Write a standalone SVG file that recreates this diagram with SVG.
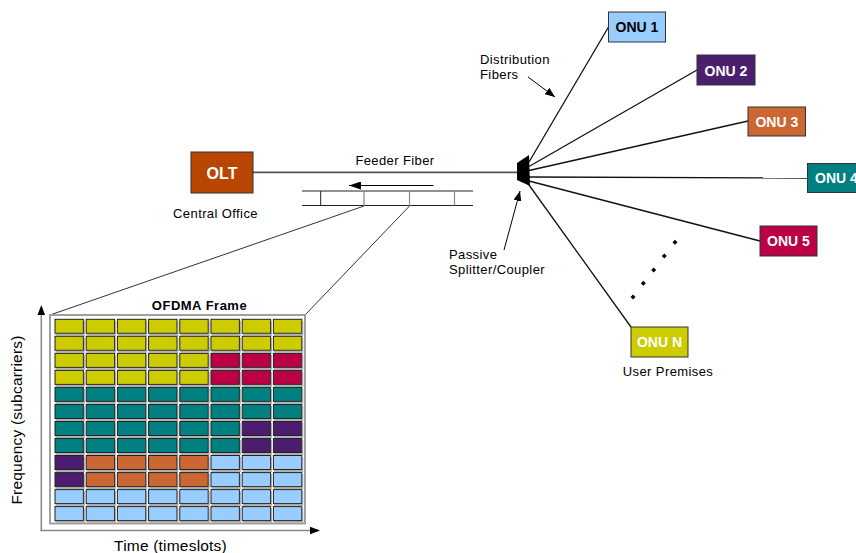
<svg xmlns="http://www.w3.org/2000/svg" width="856" height="553" viewBox="0 0 856 553">
  <style>
    .lbl { font-family: "Liberation Sans", Arial, sans-serif; font-size: 13px; letter-spacing: 0.4px; fill: #000; }
    .node-txt { font-family: "Liberation Sans", Arial, sans-serif; font-weight: bold; font-size: 14px; text-anchor: middle; fill: #fff; }
    .node-box { stroke: #333; stroke-width: 1; }
    .fiber { stroke: #111; stroke-width: 1.3; fill: none; }
    .pointer { stroke: #000; stroke-width: 1; fill: none; }
    .buf { stroke: #222; stroke-width: 1; fill: none; }
    .buf-mid { stroke: #888; stroke-width: 1.2; fill: none; }
    .zoom { stroke: #333; stroke-width: 1; fill: none; }
    .axis { stroke: #888; stroke-width: 1.5; fill: none; }
    .cell { stroke: #222; stroke-width: 1; }
    .y { fill: #CCCC00; }
    .r { fill: #BB0044; }
    .t { fill: #008080; }
    .p { fill: #4B1F6F; }
    .o { fill: #CC6633; }
    .b { fill: #99CCFF; }
  </style>
  <defs>
    <marker id="ah" viewBox="0 0 10 8" refX="10" refY="4" markerWidth="10" markerHeight="8" orient="auto" markerUnits="userSpaceOnUse">
      <path d="M0,0 L10,4 L0,8 z" fill="#000"/>
    </marker>
    <marker id="ah-big" viewBox="0 0 12 8" refX="12" refY="4" markerWidth="12" markerHeight="8" orient="auto" markerUnits="userSpaceOnUse">
      <path d="M0,0 L12,4 L0,8 z" fill="#000"/>
    </marker>
    <filter id="cellShadow" x="-10%" y="-10%" width="120%" height="130%">
      <feOffset in="SourceAlpha" dx="1" dy="2" result="off"/>
      <feFlood flood-color="#b0b0b0"/>
      <feComposite in2="off" operator="in" result="sh"/>
      <feMerge><feMergeNode in="sh"/><feMergeNode in="SourceGraphic"/></feMerge>
    </filter>
  </defs>

  <rect width="856" height="553" fill="#fff"/>

  <!-- connectors -->
  <g id="connectors">
    <!-- feeder fiber -->
    <line x1="253" y1="172.3" x2="518" y2="172.3" stroke="#555" stroke-width="1.8"/>
    <!-- distribution fibers -->
    <line class="fiber" x1="529" y1="162" x2="608.5" y2="27"/>
    <line class="fiber" x1="529" y1="166.5" x2="697" y2="70"/>
    <line class="fiber" x1="529" y1="170.5" x2="748" y2="121"/>
    <line class="fiber" x1="529" y1="177" x2="807" y2="178"/>
    <line class="fiber" x1="529" y1="181" x2="760" y2="241"/>
    <line class="fiber" x1="529" y1="185" x2="631" y2="327"/>
    <!-- label pointers -->
    <line class="pointer" x1="528" y1="77" x2="555" y2="97" marker-end="url(#ah)"/>
    <line class="pointer" x1="504" y1="250" x2="520" y2="191" marker-end="url(#ah)"/>
    <!-- upstream slot buffer -->
    <line class="buf" x1="302" y1="191" x2="473" y2="191"/>
    <line class="buf" x1="302" y1="205.5" x2="473" y2="205.5"/>
    <line class="buf" x1="320.7" y1="191" x2="320.7" y2="205.5"/>
    <line class="buf-mid" x1="364" y1="191" x2="364" y2="206"/>
    <line class="buf-mid" x1="409.5" y1="191" x2="409.5" y2="206"/>
    <line class="buf-mid" x1="454.5" y1="191" x2="454.5" y2="205.5"/>
    <line class="pointer" x1="433.5" y1="185.5" x2="349" y2="185.5" marker-end="url(#ah-big)"/>
    <!-- zoom lines to frame -->
    <line class="zoom" x1="364" y1="206" x2="50" y2="315"/>
    <line class="zoom" x1="409.5" y1="206" x2="305" y2="315"/>
    <!-- distant ONUs -->
    <g fill="#000">
      <path d="M675,239.8 l2.5,2.5 l-2.5,2.5 l-2.5,-2.5 z"/>
      <path d="M664.3,253.5 l2.5,2.5 l-2.5,2.5 l-2.5,-2.5 z"/>
      <path d="M653.7,267.5 l2.5,2.5 l-2.5,2.5 l-2.5,-2.5 z"/>
      <path d="M643.3,280.8 l2.5,2.5 l-2.5,2.5 l-2.5,-2.5 z"/>
      <path d="M633,294.5 l2.5,2.5 l-2.5,2.5 l-2.5,-2.5 z"/>
    </g>
  </g>

  <!-- OLT -->
  <g id="olt">
    <rect class="node-box" x="191" y="152" width="62" height="41" fill="#B84500"/>
    <text class="node-txt" x="222" y="178.5" style="font-size:16px">OLT</text>
    <text class="lbl" x="215.5" y="217.5" text-anchor="middle">Central Office</text>
  </g>

  <text class="lbl" x="395" y="165" text-anchor="middle">Feeder Fiber</text>

  <!-- passive splitter -->
  <g id="splitter">
    <polygon points="517,163 529,155 530,186 517,180" fill="#000"/>
    <text class="lbl" x="449" y="258.5">Passive</text>
    <text class="lbl" x="449" y="273.5">Splitter/Coupler</text>
  </g>

  <g id="fibers-label">
    <text class="lbl" x="480" y="63.5">Distribution</text>
    <text class="lbl" x="480" y="78.5">Fibers</text>
  </g>

  <!-- ONUs -->
  <g id="onu1">
    <rect class="node-box" x="608.5" y="12" width="57" height="30" fill="#99CCFF"/>
    <text class="node-txt" x="637" y="32" fill="#000" style="fill:#000">ONU 1</text>
  </g>
  <g id="onu2">
    <rect class="node-box" x="697" y="55" width="58" height="30" fill="#4B1F6F"/>
    <text class="node-txt" x="726" y="75.5">ONU 2</text>
  </g>
  <g id="onu3">
    <rect class="node-box" x="748" y="107" width="57.5" height="29" fill="#CC6633"/>
    <text class="node-txt" x="776.8" y="126.5">ONU 3</text>
  </g>
  <g id="onu4">
    <rect class="node-box" x="807.5" y="163.5" width="58" height="29" fill="#008080"/>
    <text class="node-txt" x="836.5" y="183">ONU 4</text>
  </g>
  <g id="onu5">
    <rect class="node-box" x="760" y="226" width="57" height="30" fill="#BB0044"/>
    <text class="node-txt" x="788.5" y="246">ONU 5</text>
  </g>
  <g id="onuN">
    <rect class="node-box" x="631" y="327" width="57" height="30" fill="#CCCC00"/>
    <text class="node-txt" x="659.5" y="347">ONU N</text>
    <text class="lbl" x="668" y="376" text-anchor="middle">User Premises</text>
  </g>

  <!-- OFDMA frame -->
  <g id="ofdma-frame">
    <line class="axis" x1="41.3" y1="531" x2="41.3" y2="307"/>
    <line class="axis" x1="40.5" y1="530.5" x2="318" y2="530.5"/>
    <path d="M41.3,305 L37.5,315 L45.1,315 z" fill="#000"/>
    <path d="M320,530.5 L310,526.7 L310,534.3 z" fill="#000"/>
    <rect x="50" y="315" width="255" height="208.5" fill="#fff" stroke="#a0a0a0" stroke-width="2"/>
    <text x="199.5" y="309.5" text-anchor="middle" style="font-family:'Liberation Sans',Arial,sans-serif;font-weight:bold;font-size:13px;letter-spacing:0.5px">OFDMA Frame</text>

    <g filter="url(#cellShadow)">
      <g transform="translate(0,319.3)">
        <rect class="cell y" x="55" width="28.4" height="14"/><rect class="cell y" x="86.2" width="28.4" height="14"/><rect class="cell y" x="117.4" width="28.4" height="14"/><rect class="cell y" x="148.6" width="28.4" height="14"/><rect class="cell y" x="179.8" width="28.4" height="14"/><rect class="cell y" x="211" width="28.4" height="14"/><rect class="cell y" x="242.2" width="28.4" height="14"/><rect class="cell y" x="273.4" width="28.4" height="14"/>
      </g>
      <g transform="translate(0,336.3)">
        <rect class="cell y" x="55" width="28.4" height="14"/><rect class="cell y" x="86.2" width="28.4" height="14"/><rect class="cell y" x="117.4" width="28.4" height="14"/><rect class="cell y" x="148.6" width="28.4" height="14"/><rect class="cell y" x="179.8" width="28.4" height="14"/><rect class="cell y" x="211" width="28.4" height="14"/><rect class="cell y" x="242.2" width="28.4" height="14"/><rect class="cell y" x="273.4" width="28.4" height="14"/>
      </g>
      <g transform="translate(0,353.4)">
        <rect class="cell y" x="55" width="28.4" height="14"/><rect class="cell y" x="86.2" width="28.4" height="14"/><rect class="cell y" x="117.4" width="28.4" height="14"/><rect class="cell y" x="148.6" width="28.4" height="14"/><rect class="cell y" x="179.8" width="28.4" height="14"/><rect class="cell r" x="211" width="28.4" height="14"/><rect class="cell r" x="242.2" width="28.4" height="14"/><rect class="cell r" x="273.4" width="28.4" height="14"/>
      </g>
      <g transform="translate(0,370.4)">
        <rect class="cell y" x="55" width="28.4" height="14"/><rect class="cell y" x="86.2" width="28.4" height="14"/><rect class="cell y" x="117.4" width="28.4" height="14"/><rect class="cell y" x="148.6" width="28.4" height="14"/><rect class="cell y" x="179.8" width="28.4" height="14"/><rect class="cell r" x="211" width="28.4" height="14"/><rect class="cell r" x="242.2" width="28.4" height="14"/><rect class="cell r" x="273.4" width="28.4" height="14"/>
      </g>
      <g transform="translate(0,387.4)">
        <rect class="cell t" x="55" width="28.4" height="14"/><rect class="cell t" x="86.2" width="28.4" height="14"/><rect class="cell t" x="117.4" width="28.4" height="14"/><rect class="cell t" x="148.6" width="28.4" height="14"/><rect class="cell t" x="179.8" width="28.4" height="14"/><rect class="cell t" x="211" width="28.4" height="14"/><rect class="cell t" x="242.2" width="28.4" height="14"/><rect class="cell t" x="273.4" width="28.4" height="14"/>
      </g>
      <g transform="translate(0,404.5)">
        <rect class="cell t" x="55" width="28.4" height="14"/><rect class="cell t" x="86.2" width="28.4" height="14"/><rect class="cell t" x="117.4" width="28.4" height="14"/><rect class="cell t" x="148.6" width="28.4" height="14"/><rect class="cell t" x="179.8" width="28.4" height="14"/><rect class="cell t" x="211" width="28.4" height="14"/><rect class="cell t" x="242.2" width="28.4" height="14"/><rect class="cell t" x="273.4" width="28.4" height="14"/>
      </g>
      <g transform="translate(0,421.5)">
        <rect class="cell t" x="55" width="28.4" height="14"/><rect class="cell t" x="86.2" width="28.4" height="14"/><rect class="cell t" x="117.4" width="28.4" height="14"/><rect class="cell t" x="148.6" width="28.4" height="14"/><rect class="cell t" x="179.8" width="28.4" height="14"/><rect class="cell t" x="211" width="28.4" height="14"/><rect class="cell p" x="242.2" width="28.4" height="14"/><rect class="cell p" x="273.4" width="28.4" height="14"/>
      </g>
      <g transform="translate(0,438.5)">
        <rect class="cell t" x="55" width="28.4" height="14"/><rect class="cell t" x="86.2" width="28.4" height="14"/><rect class="cell t" x="117.4" width="28.4" height="14"/><rect class="cell t" x="148.6" width="28.4" height="14"/><rect class="cell t" x="179.8" width="28.4" height="14"/><rect class="cell t" x="211" width="28.4" height="14"/><rect class="cell p" x="242.2" width="28.4" height="14"/><rect class="cell p" x="273.4" width="28.4" height="14"/>
      </g>
      <g transform="translate(0,455.5)">
        <rect class="cell p" x="55" width="28.4" height="14"/><rect class="cell o" x="86.2" width="28.4" height="14"/><rect class="cell o" x="117.4" width="28.4" height="14"/><rect class="cell o" x="148.6" width="28.4" height="14"/><rect class="cell o" x="179.8" width="28.4" height="14"/><rect class="cell b" x="211" width="28.4" height="14"/><rect class="cell b" x="242.2" width="28.4" height="14"/><rect class="cell b" x="273.4" width="28.4" height="14"/>
      </g>
      <g transform="translate(0,472.6)">
        <rect class="cell p" x="55" width="28.4" height="14"/><rect class="cell o" x="86.2" width="28.4" height="14"/><rect class="cell o" x="117.4" width="28.4" height="14"/><rect class="cell o" x="148.6" width="28.4" height="14"/><rect class="cell o" x="179.8" width="28.4" height="14"/><rect class="cell b" x="211" width="28.4" height="14"/><rect class="cell b" x="242.2" width="28.4" height="14"/><rect class="cell b" x="273.4" width="28.4" height="14"/>
      </g>
      <g transform="translate(0,489.6)">
        <rect class="cell b" x="55" width="28.4" height="14"/><rect class="cell b" x="86.2" width="28.4" height="14"/><rect class="cell b" x="117.4" width="28.4" height="14"/><rect class="cell b" x="148.6" width="28.4" height="14"/><rect class="cell b" x="179.8" width="28.4" height="14"/><rect class="cell b" x="211" width="28.4" height="14"/><rect class="cell b" x="242.2" width="28.4" height="14"/><rect class="cell b" x="273.4" width="28.4" height="14"/>
      </g>
      <g transform="translate(0,506.6)">
        <rect class="cell b" x="55" width="28.4" height="14"/><rect class="cell b" x="86.2" width="28.4" height="14"/><rect class="cell b" x="117.4" width="28.4" height="14"/><rect class="cell b" x="148.6" width="28.4" height="14"/><rect class="cell b" x="179.8" width="28.4" height="14"/><rect class="cell b" x="211" width="28.4" height="14"/><rect class="cell b" x="242.2" width="28.4" height="14"/><rect class="cell b" x="273.4" width="28.4" height="14"/>
      </g>
    </g>

    <text class="lbl" x="170.5" y="550.5" text-anchor="middle" style="font-size:15.5px;letter-spacing:0.2px">Time (timeslots)</text>
    <text class="lbl" transform="translate(22,420) rotate(-90)" text-anchor="middle" style="font-size:15.5px;letter-spacing:0.2px">Frequency (subcarriers)</text>
  </g>
</svg>
